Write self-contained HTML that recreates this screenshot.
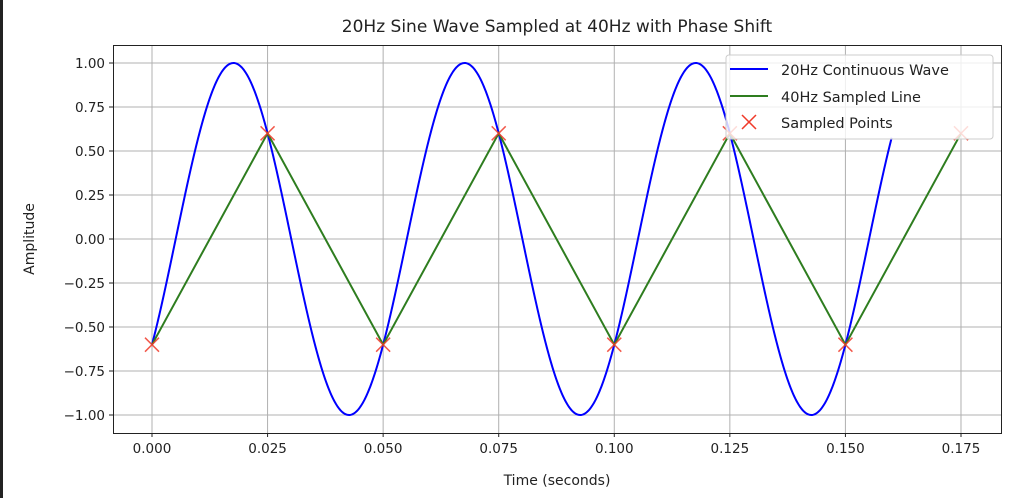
<!DOCTYPE html><html><head><meta charset="utf-8"><style>body{margin:0;background:#fff}svg{display:block;font-family:"DejaVu Sans","Liberation Sans",sans-serif}</style></head><body>
<svg id="s" width="1010" height="498" viewBox="0 0 1010 498">
<rect x="0" y="0" width="3" height="498" fill="#222"/>
<text x="557" y="32" font-size="17" text-anchor="middle" fill="#222">20Hz Sine Wave Sampled at 40Hz with Phase Shift</text>
<g id="grid" stroke="#b0b0b0" stroke-width="1"></g>
<g id="ticks" font-size="13.5" fill="#222"></g>
<path id="blue" fill="none" stroke="#0000ff" stroke-width="2"/>
<path id="green" fill="none" stroke="#2e7d1f" stroke-width="2"/>
<g id="marks" stroke="#f03a2a" stroke-width="1.5" opacity="0.85"></g>
<rect x="113.5" y="45.5" width="888" height="388" fill="none" stroke="#222" stroke-width="1"/>
<g id="leg">
<rect x="726" y="55" width="267" height="84" rx="3" fill="#fff" fill-opacity="0.8" stroke="#ccc"/>
<line x1="730" y1="69" x2="768" y2="69" stroke="#0000ff" stroke-width="2"/>
<text x="781" y="75" font-size="14.5" fill="#222">20Hz Continuous Wave</text>
<line x1="730" y1="96" x2="768" y2="96" stroke="#2e7d1f" stroke-width="2"/>
<text x="781" y="102" font-size="14.5" fill="#222">40Hz Sampled Line</text>
<path d="M742,115 L756,129 M756,115 L742,129" stroke="#f03a2a" stroke-width="1.5"/>
<text x="781" y="128" font-size="14.5" fill="#222">Sampled Points</text>
</g>
<text x="557" y="485" font-size="14" text-anchor="middle" fill="#222">Time (seconds)</text>
<text transform="translate(34,239) rotate(-90)" font-size="14" text-anchor="middle" fill="#222">Amplitude</text>
</svg>
<script>
var X=t=>152+t/0.025*115.57,Y=v=>239-v*176,N="http://www.w3.org/2000/svg";
function el(p,n,a,tx){var e=document.createElementNS(N,n);for(var k in a)e.setAttribute(k,a[k]);if(tx)e.textContent=tx;document.getElementById(p).appendChild(e);}
for(var i=0;i<8;i++){var x=X(i*0.025);el("grid","line",{x1:x,x2:x,y1:46,y2:433});el("ticks","line",{x1:x,x2:x,y1:433,y2:437,stroke:"#222"});el("ticks","text",{x:x,y:453,"text-anchor":"middle"},(i*0.025).toFixed(3));}
for(var j=-4;j<=4;j++){var v=j*0.25,y=Y(v);el("grid","line",{x1:114,x2:1001,y1:y,y2:y});el("ticks","line",{x1:109,x2:113,y1:y,y2:y,stroke:"#222"});el("ticks","text",{x:105,y:y+5,"text-anchor":"end"},(v<0?"\u2212":"")+Math.abs(v).toFixed(2));}
var f=t=>Math.sin(40*Math.PI*t-0.205*Math.PI),d="";
for(var k=0;k<=800;k++){var t=0.16*k/800;d+=(k?"L":"M")+X(t).toFixed(2)+","+Y(f(t)).toFixed(2);}
document.getElementById("blue").setAttribute("d",d);
var g="";for(var i=0;i<8;i++){var t=i*0.025,x=X(t),y=Y(f(t));g+=(i?"L":"M")+x+","+y;el("marks","path",{d:"M"+(x-7)+","+(y-7)+"L"+(x+7)+","+(y+7)+"M"+(x+7)+","+(y-7)+"L"+(x-7)+","+(y+7)});}
document.getElementById("green").setAttribute("d",g);
document.getElementById("s").appendChild(document.getElementById("leg"));
</script>
</body></html>
